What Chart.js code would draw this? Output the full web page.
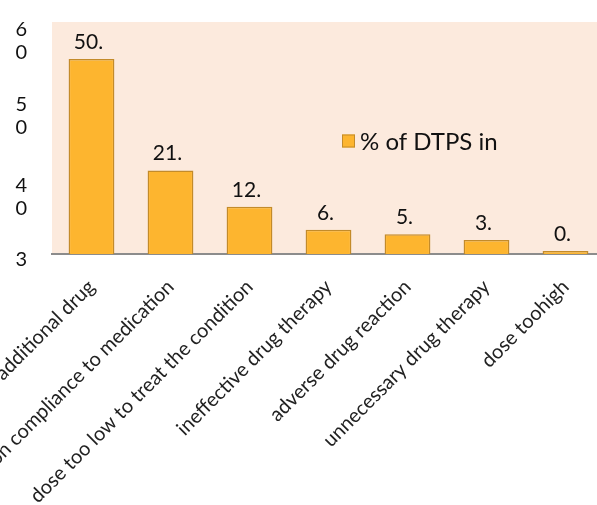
<!DOCTYPE html>
<html>
<head>
<meta charset="utf-8">
<script src="https://cdn.jsdelivr.net/npm/chart.js@4.4.1/dist/chart.umd.min.js"></script>
<style>
  html, body { margin: 0; padding: 0; background: #fff; overflow: hidden; }
  #chart { display: block; }
</style>
</head>
<body>
<canvas id="chart" width="605" height="505"></canvas>
<script>
const categories = [
  "need for additional drug",
  "non compliance to medication",
  "dose too low to treat the condition",
  "ineffective drug therapy",
  "adverse drug reaction",
  "unnecessary drug therapy",
  "dose toohigh",
];
const seriesName = "% of DTPS in";
const dtpsPercent = [50.4, 21.6, 12.2, 6.3, 5.1, 3.6, 0.8];

// the y axis labels in the picture are broken up and unevenly placed
const yTickValues = [55.1, 35.7, 14.7, -1.4];
const yTickLabels = [["6", "0"], ["5", "0"], ["4", "0"], "3"];

const barFill = "#FDB52F";
const barBorder = "#C38B2A";
const plotBg = "#FCEADD";
const fontName = "Lato, 'Noto Sans', sans-serif";

const plotBackground = {
  id: "plotBackground",
  beforeDraw(chart) {
    const { ctx, chartArea } = chart;
    ctx.save();
    ctx.fillStyle = plotBg;
    ctx.fillRect(chartArea.left, chartArea.top, chartArea.right - chartArea.left, chartArea.bottom - chartArea.top);
    ctx.restore();
  }
};

const barValues = {
  id: "barValues",
  afterDatasetsDraw(chart) {
    const { ctx } = chart;
    const meta = chart.getDatasetMeta(0);
    ctx.save();
    ctx.font = "21px " + fontName;
    ctx.fillStyle = "#111";
    ctx.textAlign = "center";
    ctx.textBaseline = "alphabetic";
    meta.data.forEach((bar, i) => {
      const text = Math.trunc(dtpsPercent[i]) + ".";
      ctx.fillText(text, bar.x - 3, bar.y - 10);
    });
    ctx.restore();
  }
};

const insideLegend = {
  id: "insideLegend",
  afterDraw(chart) {
    const { ctx, chartArea } = chart;
    const x = chartArea.left + 290;
    const y = 141;
    ctx.save();
    ctx.fillStyle = barFill;
    ctx.strokeStyle = barBorder;
    ctx.lineWidth = 1;
    ctx.fillRect(x, y - 6.5, 13, 13);
    ctx.strokeRect(x + 0.5, y - 6, 12, 12);
    ctx.font = "24px " + fontName;
    ctx.fillStyle = "#111";
    ctx.textAlign = "left";
    ctx.textBaseline = "middle";
    ctx.fillText(chart.data.datasets[0].label, x + 18, y + 1);
    ctx.restore();
  }
};

new Chart(document.getElementById("chart"), {
  type: "bar",
  data: {
    labels: categories,
    datasets: [{
      label: seriesName,
      data: dtpsPercent,
      backgroundColor: barFill,
      borderColor: barBorder,
      borderWidth: 1.5,
      categoryPercentage: 1,
      barPercentage: 0.58,
    }]
  },
  options: {
    responsive: false,
    animation: false,
    devicePixelRatio: 1,
    layout: { padding: { top: 22, left: 0, right: 0, bottom: 0 } },
    plugins: {
      legend: { display: false },
      tooltip: { enabled: false },
    },
    scales: {
      x: {
        grid: { display: false },
        border: { display: true, color: "#8C8C8C", width: 2 },
        ticks: {
          color: "#222",
          font: { family: fontName, size: 20 },
          maxRotation: 45,
          minRotation: 45,
          autoSkip: false,
          padding: 13,
        },
        afterFit(scale) {
          scale.height = 251;
          scale.paddingLeft = 0;
          scale.paddingRight = 0;
        }
      },
      y: {
        min: 0,
        max: 60,
        grid: { display: false, drawTicks: false },
        border: { display: false },
        afterBuildTicks(scale) {
          scale.ticks = yTickValues.map((v) => ({ value: v }));
        },
        ticks: {
          color: "#111",
          font: { family: fontName, size: 20, lineHeight: 1.15 },
          padding: 25,
          autoSkip: false,
          callback: (value, index) => yTickLabels[index],
        },
        afterFit(scale) {
          scale.width = 52;
          scale.paddingTop = 0;
          scale.paddingBottom = 0;
        }
      }
    }
  },
  plugins: [plotBackground, barValues, insideLegend]
});
</script>
</body>
</html>
